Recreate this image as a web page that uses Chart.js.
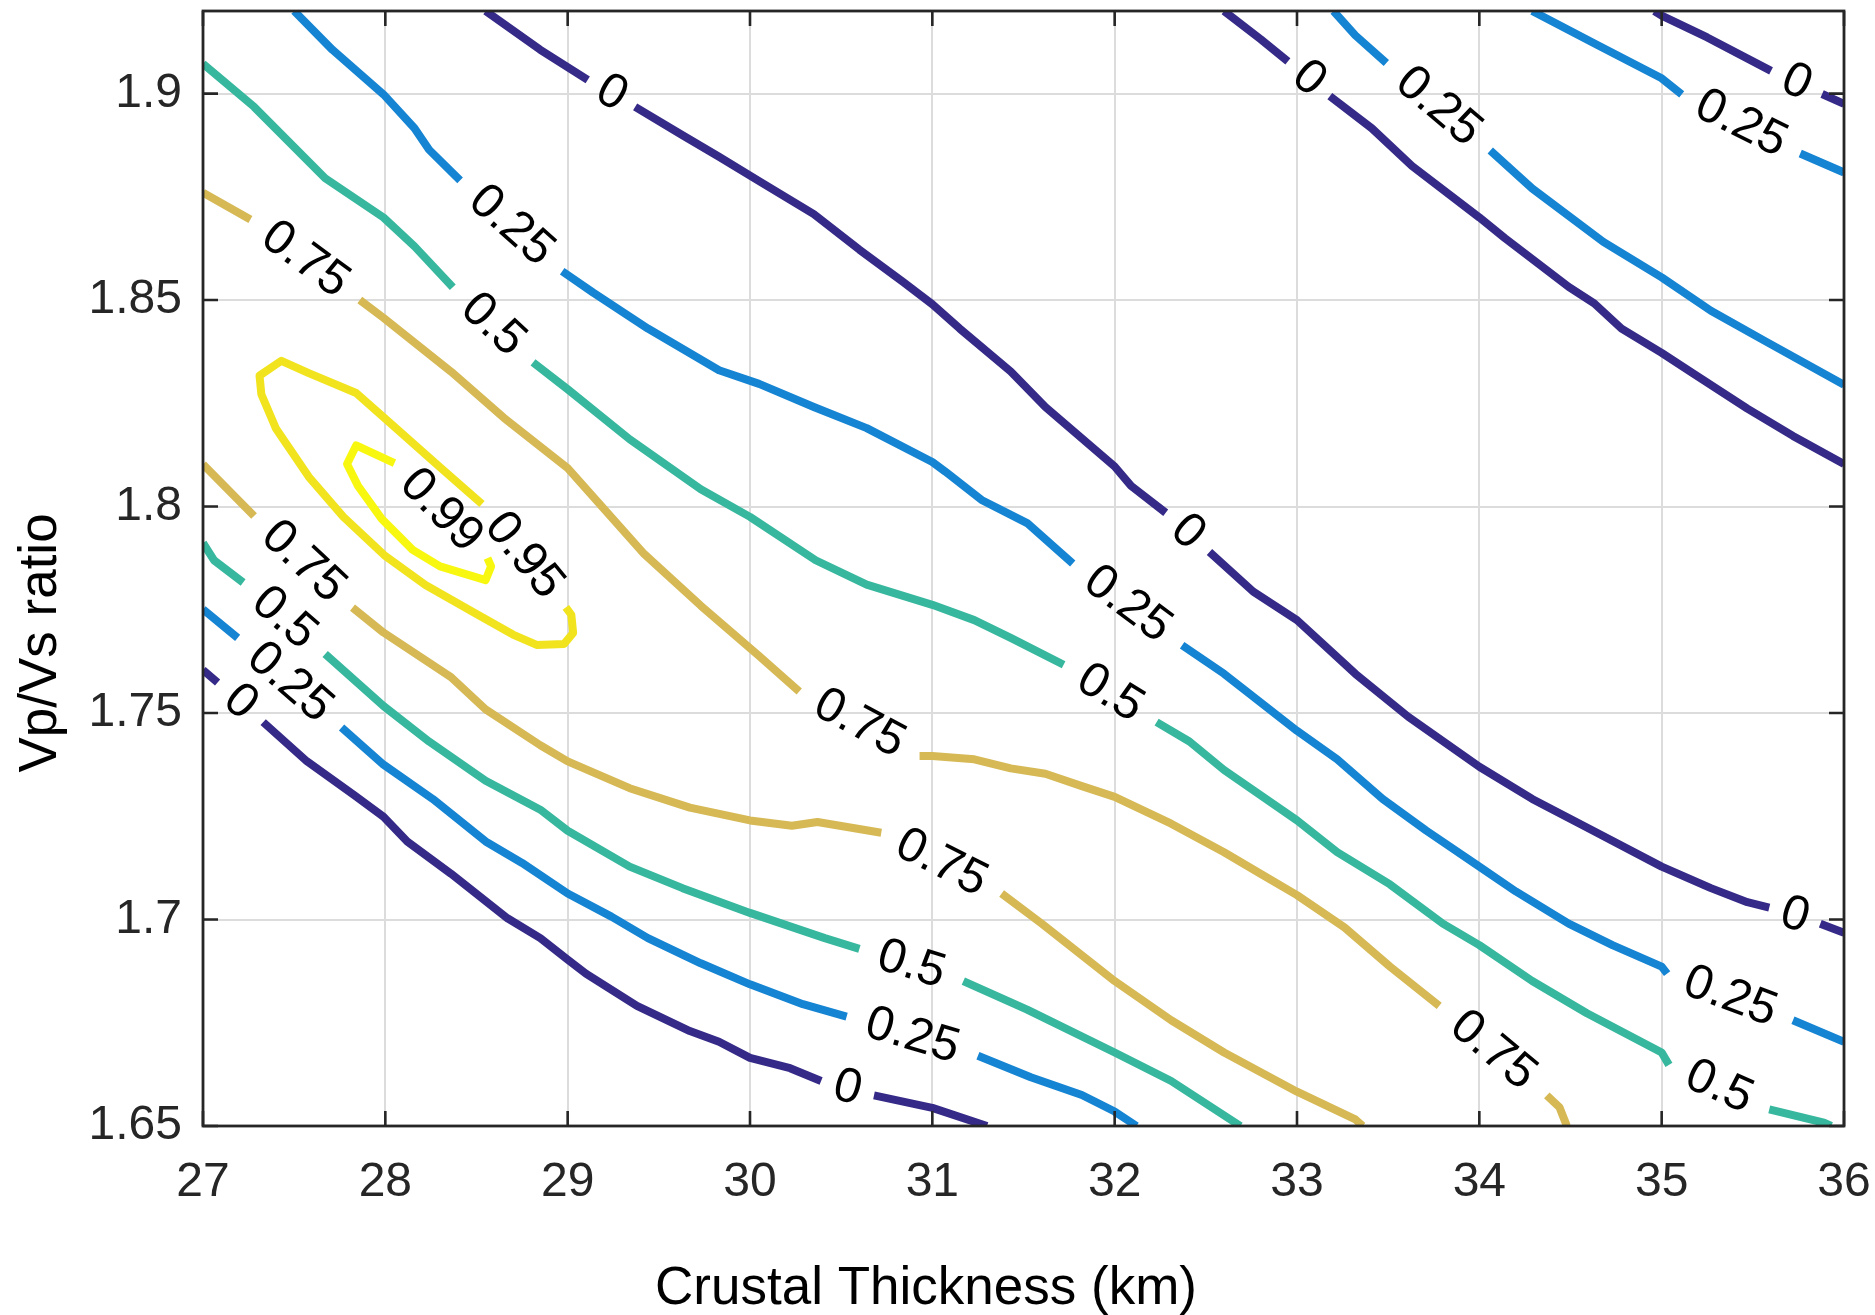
<!DOCTYPE html>
<html>
<head>
<meta charset="utf-8">
<script src="https://cdn.jsdelivr.net/npm/chart.js@4/dist/chart.umd.min.js"></script>
<style>
html,body{margin:0;padding:0;background:#ffffff;}
#wrap{width:1875px;height:1315px;}
</style>
</head>
<body>
<div id="wrap"><canvas id="c" width="1875" height="1315"></canvas></div>
<script>
// ---- axes ----
const xTicks = [27, 28, 29, 30, 31, 32, 33, 34, 35, 36];
const xTickLabels = ['27', '28', '29', '30', '31', '32', '33', '34', '35', '36'];
const yTicks = [1.65, 1.7, 1.75, 1.8, 1.85, 1.9];
const yTickLabels = ['1.65', '1.7', '1.75', '1.8', '1.85', '1.9'];
const xRange = [27, 36];
const yRange = [1.65, 1.92];
const xTitle = 'Crustal Thickness (km)';
const yTitle = 'Vp/Vs ratio';

// ---- contour levels ----
const levels = [0, 0.25, 0.5, 0.75, 0.95, 0.99];
const levelColors = ['#352a87', '#1584d3', '#37b89e', '#d6b955', '#f1e41e', '#f8f70f'];

// ---- contour lines: [thickness, Vp/Vs]; null = label gap ----
const c000_lowerLeft = [[27.00,1.7604],[27.08,1.7574],null,[27.33,1.7478],[27.57,1.7383],[27.83,1.7301],[27.99,1.7249],[28.12,1.7189],[28.36,1.7111],[28.67,1.7003],[28.85,1.6955],[29.00,1.6903],[29.10,1.6869],[29.38,1.6791],[29.67,1.6730],[29.83,1.6704],[30.00,1.6665],[30.22,1.6640],[30.39,1.6609],null,[30.68,1.6574],[31.00,1.6544],[31.30,1.6500]];
const c025_lowerLeft = [[27.00,1.7751],[27.19,1.7682],null,[27.76,1.7465],[27.99,1.7375],[28.26,1.7292],[28.55,1.7189],[28.75,1.7137],[29.00,1.7063],[29.24,1.7007],[29.44,1.6955],[29.73,1.6894],[30.00,1.6843],[30.29,1.6795],[30.53,1.6765],null,[31.25,1.6670],[31.54,1.6618],[31.82,1.6575],[32.00,1.6535],[32.12,1.6500]];
const c050_lowerLeft = [[27.00,1.7912],[27.06,1.7870],[27.22,1.7816],null,[27.67,1.7643],[27.99,1.7517],[28.24,1.7431],[28.55,1.7336],[28.85,1.7266],[29.00,1.7215],[29.34,1.7128],[29.63,1.7076],[30.00,1.7016],[30.41,1.6955],[30.60,1.6929],null,[31.17,1.6851],[31.52,1.6782],[32.00,1.6678],[32.31,1.6609],[32.69,1.6500]];
const c075_lower = [[27.00,1.8102],[27.28,1.7977],null,[27.82,1.7755],[27.99,1.7695],[28.36,1.7587],[28.55,1.7509],[28.85,1.7422],[29.00,1.7383],[29.34,1.7318],[29.67,1.7271],[30.00,1.7240],[30.23,1.7227],[30.37,1.7236],[30.72,1.7210],null,[31.38,1.7063],[31.60,1.6990],[32.00,1.6851],[32.31,1.6756],[32.60,1.6678],[33.00,1.6583],[33.32,1.6516],[33.36,1.6500]];
const c075_upper = [[27.00,1.8760],[27.26,1.8695],null,[27.86,1.8500],[27.99,1.8457],[28.36,1.8327],[28.65,1.8215],[29.00,1.8093],[29.42,1.7885],[29.73,1.7760],[30.05,1.7638],[30.27,1.7552],null,[30.93,1.7396],[31.00,1.7396],[31.23,1.7388],[31.43,1.7366],[31.62,1.7353],[31.82,1.7323],[32.00,1.7297],[32.31,1.7232],[32.60,1.7163],[32.80,1.7111],[33.00,1.7059],[33.26,1.6981],[33.51,1.6886],[33.78,1.6791],null,[34.37,1.6574],[34.44,1.6545],[34.48,1.6500]];
const c050_upper = [[27.00,1.9072],[27.28,1.8968],[27.67,1.8795],[27.99,1.8700],[28.16,1.8630],[28.37,1.8531],null,[28.81,1.8349],[29.00,1.8284],[29.34,1.8163],[29.73,1.8042],[30.00,1.7975],[30.36,1.7870],[30.64,1.7811],[31.00,1.7762],[31.23,1.7725],[31.43,1.7682],[31.72,1.7617],null,[32.23,1.7478],[32.41,1.7431],[32.60,1.7362],[33.00,1.7240],[33.22,1.7163],[33.51,1.7085],[33.80,1.6990],[34.00,1.6938],[34.29,1.6851],[34.59,1.6773],[35.00,1.6678],[35.04,1.6648],null,[35.59,1.6540],[35.89,1.6508],[35.93,1.6500]];
const c025_upper = [[27.50,1.9200],[27.71,1.9106],[27.99,1.8998],[28.16,1.8916],[28.24,1.8864],[28.41,1.8790],null,[28.97,1.8570],[29.14,1.8518],[29.44,1.8431],[29.83,1.8330],[30.05,1.8297],[30.35,1.8241],[30.64,1.8190],[31.00,1.8108],[31.07,1.8085],[31.27,1.8016],[31.52,1.7960],[31.77,1.7862],null,[32.37,1.7664],[32.60,1.7595],[32.80,1.7526],[33.00,1.7457],[33.22,1.7388],[33.47,1.7292],[33.71,1.7215],[34.00,1.7128],[34.20,1.7068],[34.49,1.6990],[34.73,1.6938],[35.00,1.6886],[35.03,1.6869],null,[35.72,1.6756],[36.00,1.6704]];
const c000_middle = [[28.55,1.9200],[28.85,1.9106],[29.11,1.9033],null,[29.37,1.8968],[29.63,1.8899],[29.83,1.8847],[30.05,1.8788],[30.35,1.8708],[30.60,1.8622],[30.84,1.8544],[31.00,1.8490],[31.15,1.8431],[31.43,1.8327],[31.62,1.8241],[32.00,1.8097],[32.09,1.8050],[32.28,1.7985],null,[32.52,1.7890],[32.76,1.7794],[33.00,1.7725],[33.32,1.7595],[33.61,1.7491],[34.00,1.7370],[34.29,1.7292],[34.59,1.7223],[35.00,1.7128],[35.27,1.7076],[35.47,1.7042],[35.59,1.7029],null,[35.87,1.6990],[36.00,1.6968]];
const c000_upperRightA = [[32.60,1.9200],[32.80,1.9132],[32.95,1.9078],null,[33.18,1.8994],[33.41,1.8916],[33.63,1.8825],[34.00,1.8700],[34.14,1.8650],[34.49,1.8532],[34.63,1.8492],[34.78,1.8431],[35.00,1.8372],[35.17,1.8323],[35.47,1.8237],[35.72,1.8171],[36.00,1.8103]];
const c025_upperRightA = [[33.20,1.9200],[33.32,1.9141],[33.49,1.9074],null,[34.06,1.8862],[34.29,1.8770],[34.68,1.8641],[35.00,1.8555],[35.27,1.8474],[35.57,1.8400],[36.00,1.8295]];
const c025_upperRightB = [[34.29,1.9200],[34.65,1.9117],[35.00,1.9037],[35.11,1.8998],null,[35.76,1.8855],[36.00,1.8809]];
const c000_upperRightB = [[34.96,1.9200],[35.00,1.9189],[35.25,1.9136],[35.60,1.9055],null,[35.88,1.8999],[36.00,1.8975]];
const c095_loop = [[28.53,1.8006],[28.30,1.8095],[28.02,1.8205],[27.84,1.8275],[27.58,1.8323],[27.43,1.8353],[27.31,1.8317],[27.32,1.8272],[27.40,1.8189],[27.58,1.8072],[27.77,1.7975],[28.00,1.7880],[28.22,1.7810],[28.50,1.7740],[28.70,1.7690],[28.83,1.7665],[28.98,1.7667],[29.03,1.7694],[29.02,1.7738],[28.99,1.7756],null,[28.53,1.8006]];
const c099_loop = [[28.05,1.8105],[27.84,1.8148],[27.79,1.8103],[27.85,1.8050],[27.98,1.7970],[28.15,1.7895],[28.30,1.7855],[28.55,1.7822],[28.58,1.7855],[28.56,1.7875],null,[28.05,1.8105]];

const contours = [
  {level: 0,    pts: c000_lowerLeft},
  {level: 0.25, pts: c025_lowerLeft},
  {level: 0.5,  pts: c050_lowerLeft},
  {level: 0.75, pts: c075_lower},
  {level: 0.75, pts: c075_upper},
  {level: 0.5,  pts: c050_upper},
  {level: 0.25, pts: c025_upper},
  {level: 0,    pts: c000_middle},
  {level: 0,    pts: c000_upperRightA},
  {level: 0.25, pts: c025_upperRightA},
  {level: 0.25, pts: c025_upperRightB},
  {level: 0,    pts: c000_upperRightB},
  {level: 0.95, pts: c095_loop},
  {level: 0.99, pts: c099_loop}
];

const FONT = '"Liberation Sans", Arial, Helvetica, sans-serif';

function toPoints(pts) {
  return pts.map((p, i) => {
    if (p) return {x: p[0], y: p[1]};
    const a = pts[i - 1], b = pts[i + 1];
    return {x: (a[0] + b[0]) / 2, y: null};
  });
}

const overlay = {
  id: 'overlay',
  afterDatasetsDraw(chart) {
    const ctx = chart.ctx;
    const a = chart.chartArea;
    const xs = chart.scales.x, ys = chart.scales.y;
    ctx.save();
    // contour labels in the gaps
    ctx.font = '49px ' + FONT;
    ctx.fillStyle = '#000000';
    ctx.textAlign = 'center';
    ctx.textBaseline = 'middle';
    contours.forEach(c => {
      c.pts.forEach((p, i) => {
        if (p !== null) return;
        const p1 = c.pts[i - 1], p2 = c.pts[i + 1];
        const x1 = xs.getPixelForValue(p1[0]), y1 = ys.getPixelForValue(p1[1]);
        const x2 = xs.getPixelForValue(p2[0]), y2 = ys.getPixelForValue(p2[1]);
        let ang = Math.atan2(y2 - y1, x2 - x1);
        if (ang > Math.PI / 2) ang -= Math.PI;
        if (ang < -Math.PI / 2) ang += Math.PI;
        ctx.save();
        ctx.translate((x1 + x2) / 2, (y1 + y2) / 2);
        ctx.rotate(ang);
        ctx.fillText(String(c.level), 0, 0);
        ctx.restore();
      });
    });
    // axes box
    ctx.strokeStyle = '#262626';
    ctx.lineWidth = 2.8;
    ctx.strokeRect(a.left, a.top, a.right - a.left, a.bottom - a.top);
    // inward ticks on all four sides
    const tl = 15;
    ctx.lineWidth = 2.6;
    ctx.beginPath();
    xTicks.forEach(v => {
      const px = xs.getPixelForValue(v);
      ctx.moveTo(px, a.bottom); ctx.lineTo(px, a.bottom - tl);
      ctx.moveTo(px, a.top); ctx.lineTo(px, a.top + tl);
    });
    yTicks.forEach(v => {
      const py = ys.getPixelForValue(v);
      ctx.moveTo(a.left, py); ctx.lineTo(a.left + tl, py);
      ctx.moveTo(a.right, py); ctx.lineTo(a.right - tl, py);
    });
    ctx.stroke();
    // axis titles
    ctx.fillStyle = '#000000';
    ctx.font = '53px ' + FONT;
    ctx.textAlign = 'center';
    ctx.textBaseline = 'alphabetic';
    ctx.fillText(xTitle, 926, 1304);
    ctx.save();
    ctx.translate(56, 643);
    ctx.rotate(-Math.PI / 2);
    ctx.fillText(yTitle, 0, 0);
    ctx.restore();
    ctx.restore();
  }
};

const datasets = contours.map(c => {
  const col = levelColors[levels.indexOf(c.level)];
  return {
    data: toPoints(c.pts),
    showLine: true,
    borderColor: col,
    backgroundColor: col,
    borderWidth: 8,
    borderCapStyle: 'butt',
    borderJoinStyle: 'round',
    pointRadius: 0,
    pointHoverRadius: 0,
    spanGaps: false,
    tension: 0,
    clip: 0
  };
});

new Chart(document.getElementById('c'), {
  type: 'scatter',
  data: {datasets},
  options: {
    responsive: false,
    animation: false,
    devicePixelRatio: 1,
    events: [],
    layout: {padding: {left: 0, right: 31, top: 11, bottom: 0}},
    plugins: {legend: {display: false}, tooltip: {enabled: false}, title: {display: false}},
    scales: {
      x: {
        type: 'linear',
        min: xRange[0], max: xRange[1],
        afterBuildTicks(s) { s.ticks = xTicks.map(v => ({value: v})); },
        afterFit(s) { s.height = 189; s.paddingLeft = 0; s.paddingRight = 0; },
        ticks: {
          autoSkip: false, maxRotation: 0, padding: 28,
          color: '#262626', font: {family: FONT, size: 48},
          callback: (v) => xTickLabels[xTicks.indexOf(v)]
        },
        grid: {color: '#dcdcdc', lineWidth: 2, drawTicks: false},
        border: {display: false},
        title: {display: false}
      },
      y: {
        type: 'linear',
        min: yRange[0], max: yRange[1],
        afterBuildTicks(s) { s.ticks = yTicks.map(v => ({value: v})); },
        afterFit(s) { s.width = 203; s.paddingTop = 0; s.paddingBottom = 0; },
        ticks: {
          autoSkip: false, padding: 21,
          color: '#262626', font: {family: FONT, size: 48},
          callback: (v) => { const i = yTicks.findIndex(t => Math.abs(t - v) < 1e-9); return i >= 0 ? yTickLabels[i] : ''; }
        },
        grid: {color: '#dcdcdc', lineWidth: 2, drawTicks: false},
        border: {display: false},
        title: {display: false}
      }
    }
  },
  plugins: [overlay]
});
</script>
</body>
</html>
